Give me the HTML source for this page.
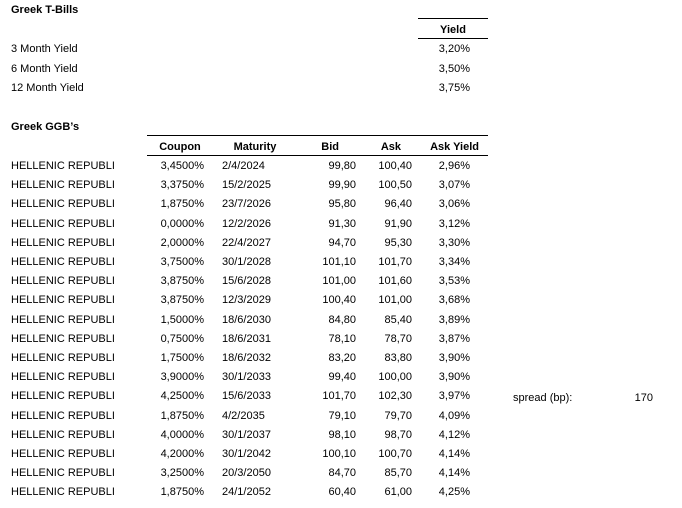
<!DOCTYPE html>
<html><head><style>
body{margin:0;background:#fff;width:682px;height:508px;position:relative;overflow:hidden;font-family:"Liberation Sans",sans-serif;font-size:11px;color:#000}
.t{position:absolute;white-space:nowrap;line-height:14px}
.b{font-weight:bold}
.r{text-align:right}
.c{text-align:center}
.ln{position:absolute;height:1px;background:#000}
</style></head><body>
<div class="t b" style="left:11px;top:3px">Greek T-Bills</div>
<div class="ln" style="left:418px;width:70px;top:18px"></div>
<div class="t b c" style="left:418px;width:70px;top:23px">Yield</div>
<div class="ln" style="left:418px;width:70px;top:38px"></div>
<div class="t" style="left:11px;top:42px">3 Month Yield</div><div class="t r" style="left:400px;width:70px;top:42px">3,20%</div>
<div class="t" style="left:11px;top:62px">6 Month Yield</div><div class="t r" style="left:400px;width:70px;top:62px">3,50%</div>
<div class="t" style="left:11px;top:81px">12 Month Yield</div><div class="t r" style="left:400px;width:70px;top:81px">3,75%</div>
<div class="t b" style="left:11px;top:120px">Greek GGB’s</div>
<div class="ln" style="left:147px;width:341px;top:135px"></div>
<div class="t b c" style="left:150px;width:60px;top:140px">Coupon</div>
<div class="t b c" style="left:220px;width:70px;top:140px">Maturity</div>
<div class="t b r" style="left:300px;width:39px;top:140px">Bid</div>
<div class="t b r" style="left:360px;width:41px;top:140px">Ask</div>
<div class="t b r" style="left:400px;width:79px;top:140px">Ask Yield</div>
<div class="ln" style="left:147px;width:341px;top:155px"></div>
<div id="rows"></div>
<div class="t" style="left:513px;top:391px">spread (bp):</div>
<div class="t r" style="left:600px;width:53px;top:391px">170</div>
<script>
var d=[["3,4500%","2/4/2024","99,80","100,40","2,96%"],["3,3750%","15/2/2025","99,90","100,50","3,07%"],["1,8750%","23/7/2026","95,80","96,40","3,06%"],["0,0000%","12/2/2026","91,30","91,90","3,12%"],["2,0000%","22/4/2027","94,70","95,30","3,30%"],["3,7500%","30/1/2028","101,10","101,70","3,34%"],["3,8750%","15/6/2028","101,00","101,60","3,53%"],["3,8750%","12/3/2029","100,40","101,00","3,68%"],["1,5000%","18/6/2030","84,80","85,40","3,89%"],["0,7500%","18/6/2031","78,10","78,70","3,87%"],["1,7500%","18/6/2032","83,20","83,80","3,90%"],["3,9000%","30/1/2033","99,40","100,00","3,90%"],["4,2500%","15/6/2033","101,70","102,30","3,97%"],["1,8750%","4/2/2035","79,10","79,70","4,09%"],["4,0000%","30/1/2037","98,10","98,70","4,12%"],["4,2000%","30/1/2042","100,10","100,70","4,14%"],["3,2500%","20/3/2050","84,70","85,70","4,14%"],["1,8750%","24/1/2052","60,40","61,00","4,25%"]];
var h="";d.forEach(function(r,i){var y=(159+i*19.2).toFixed(1);
h+='<div class="t" style="left:11px;top:'+y+'px">HELLENIC REPUBLI</div>'+
'<div class="t r" style="left:140px;width:64px;top:'+y+'px">'+r[0]+'</div>'+
'<div class="t" style="left:222px;top:'+y+'px">'+r[1]+'</div>'+
'<div class="t r" style="left:300px;width:56px;top:'+y+'px">'+r[2]+'</div>'+
'<div class="t r" style="left:360px;width:52px;top:'+y+'px">'+r[3]+'</div>'+
'<div class="t r" style="left:420px;width:50px;top:'+y+'px">'+r[4]+'</div>';});
document.getElementById("rows").innerHTML=h;
</script>
</body></html>
